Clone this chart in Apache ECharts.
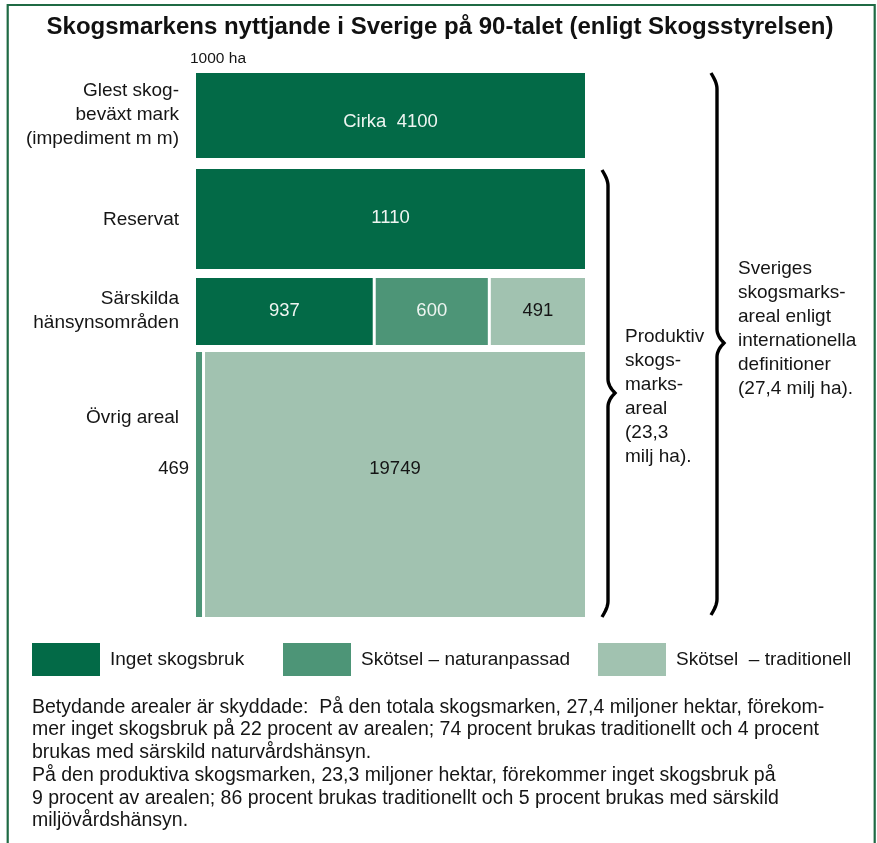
<!DOCTYPE html>
<html>
<head>
<meta charset="utf-8">
<title>Skogsmarkens nyttjande</title>
<script src="https://cdn.jsdelivr.net/npm/echarts@6/dist/echarts.min.js"></script>
<style>
html, body { margin: 0; padding: 0; background: #fff; }
#main { width: 877px; height: 843px; }
</style>
</head>
<body>
<div id="main"></div>
<script>
// arealer i 1000 ha, en rad per markslag
const rows = ['Glest skog-\nbeväxt mark\n(impediment m m)', 'Reservat', 'Särskilda\nhänsynsområden', 'Övrig areal'];
const categories = ['Inget skogsbruk', 'Skötsel – naturanpassad', 'Skötsel  – traditionell'];
const inget = [4100, 1110, 937, 0];
const naturanpassad = [0, 0, 600, 469];
const traditionell = [0, 0, 491, 19749];
const ungefar = [true, false, false, false];

const braceTexts = [
  'Produktiv\nskogs-\nmarks-\nareal\n(23,3\nmilj ha).',
  'Sveriges\nskogsmarks-\nareal enligt\ninternationella\ndefinitioner\n(27,4 milj ha).'
];
const noteLines = [
  'Betydande arealer är skyddade:  På den totala skogsmarken, 27,4 miljoner hektar, förekom-',
  'mer inget skogsbruk på 22 procent av arealen; 74 procent brukas traditionellt och 4 procent',
  'brukas med särskild naturvårdshänsyn.',
  'På den produktiva skogsmarken, 23,3 miljoner hektar, förekommer inget skogsbruk på',
  '9 procent av arealen; 86 procent brukas traditionellt och 5 procent brukas med särskild',
  'miljövårdshänsyn.'
];

// utseende
const font = '"Liberation Sans", Arial, sans-serif';
const colors = ['#036a47', '#4d9577', '#a1c2b0'];
const labelColors = ['#eef5f1', '#eef5f1', '#151515'];
const rowBand = [[0, 85], [96, 196], [205, 272], [279, 544]];
const labelShift = [6, -1, -1, -16];
const rowLabelY = [115, 220, 311, 418];
const legendLeft = [32, 283, 598];

// bygg rektanglar: [x0, x1, y0, y1, värde, glapp höger, rad]
const segs = [[], [], []];
rows.forEach((_, r) => {
  const vals = [inget[r], naturanpassad[r], traditionell[r]];
  const total = vals.reduce((a, b) => a + b, 0);
  const used = [0, 1, 2].filter(c => vals[c] > 0);
  let acc = 0;
  used.forEach((c, k) => {
    const x0 = acc / total * 100;
    acc += vals[c];
    const x1 = acc / total * 100;
    segs[c].push([x0, x1, rowBand[r][0], rowBand[r][1], vals[c], k < used.length - 1 ? 1 : 0, r]);
  });
});

function renderSeg(params, api) {
  const c = params.seriesIndex;
  const r = api.value(6);
  const p0 = api.coord([api.value(0), api.value(2)]);
  const p1 = api.coord([api.value(1), api.value(3)]);
  const gap = api.value(5) ? 3 : 0;
  const w = p1[0] - p0[0] - gap;
  const h = p1[1] - p0[1];
  const txt = (ungefar[r] ? 'Cirka  ' : '') + api.value(4);
  const inside = w > 40;
  return {
    type: 'group',
    children: [
      { type: 'rect', shape: { x: p0[0], y: p0[1], width: w, height: h }, style: { fill: colors[c] } },
      {
        type: 'text',
        style: {
          text: txt,
          x: inside ? p0[0] + w / 2 : p0[0] - 7,
          y: p0[1] + h / 2 + labelShift[r],
          fill: inside ? labelColors[c] : '#151515',
          fontSize: 18.5,
          fontFamily: font,
          align: inside ? 'center' : 'right',
          verticalAlign: 'middle'
        }
      }
    ]
  };
}

function brace(tip, top, mid, bottom) {
  const stem = tip + 6, point = tip + 13, pts = [];
  for (let i = 0; i <= 8; i++) { const t = i / 8; pts.push([tip + (stem - tip) * Math.sin(t * Math.PI / 2), top + 16 * t]); }
  for (let i = 0; i <= 8; i++) { const t = i / 8; pts.push([stem + (point - stem) * t * t, mid - 14 + 14 * t]); }
  for (let i = 0; i <= 8; i++) { const t = i / 8; pts.push([point - (point - stem) * (2 * t - t * t), mid + 14 * t]); }
  for (let i = 0; i <= 8; i++) { const t = i / 8; pts.push([stem - (stem - tip) * (1 - Math.cos(t * Math.PI / 2)), bottom - 16 + 16 * t]); }
  return pts;
}

function txt(text, x, y, size, opts) {
  return {
    type: 'text',
    style: Object.assign({
      text: text, x: x, y: y, fill: '#151515',
      font: size + 'px ' + font,
      textAlign: 'left', align: 'left',
      textVerticalAlign: 'middle', verticalAlign: 'middle',
      lineHeight: 24
    }, opts || {})
  };
}

const graphics = [
  { type: 'rect', shape: { x: 7.7, y: 5, width: 867, height: 860 }, style: { fill: null, stroke: '#1f6a44', lineWidth: 2.2 } },
  txt('Skogsmarkens nyttjande i Sverige på 90-talet (enligt Skogsstyrelsen)', 440, 27, 24,
    { font: 'bold 24px ' + font, textAlign: 'center', align: 'center', fill: '#111' }),
  txt('1000 ha', 190, 59, 15.5),
  { type: 'polyline', shape: { points: brace(602, 170, 393, 617) }, style: { stroke: '#000', lineWidth: 3.4, fill: null } },
  { type: 'polyline', shape: { points: brace(711, 73, 343, 615) }, style: { stroke: '#000', lineWidth: 3.4, fill: null } },
  txt(braceTexts[0], 625, 325, 19, { textVerticalAlign: 'top', verticalAlign: 'top' }),
  txt(braceTexts[1], 738, 257, 19, { textVerticalAlign: 'top', verticalAlign: 'top' }),
  txt(noteLines.join('\n'), 32, 696, 19.5, { textVerticalAlign: 'top', verticalAlign: 'top', lineHeight: 22.7 })
];
rows.forEach((name, r) => {
  graphics.push(txt(name, 179, rowLabelY[r], 19, { textAlign: 'right', align: 'right' }));
});

const chart = echarts.init(document.getElementById('main'));
chart.setOption({
  animation: false,
  backgroundColor: '#fff',
  grid: { left: 196, top: 73, width: 389, height: 545 },
  xAxis: { type: 'value', min: 0, max: 100, show: false },
  yAxis: { type: 'value', min: 0, max: 545, inverse: true, show: false },
  legend: categories.map((name, c) => ({
    data: [name],
    left: legendLeft[c],
    top: 643,
    padding: 0,
    itemWidth: 68,
    itemHeight: 33,
    icon: 'rect',
    selectedMode: false,
    textStyle: { fontSize: 19, fontFamily: font, color: '#151515', padding: [0, 0, 0, 5] }
  })),
  series: categories.map((name, c) => ({
    type: 'custom',
    name: name,
    renderItem: renderSeg,
    data: segs[c],
    encode: { x: [0, 1], y: [2, 3] },
    itemStyle: { color: colors[c] },
    clip: false
  })),
  graphic: graphics
});
</script>
</body>
</html>
